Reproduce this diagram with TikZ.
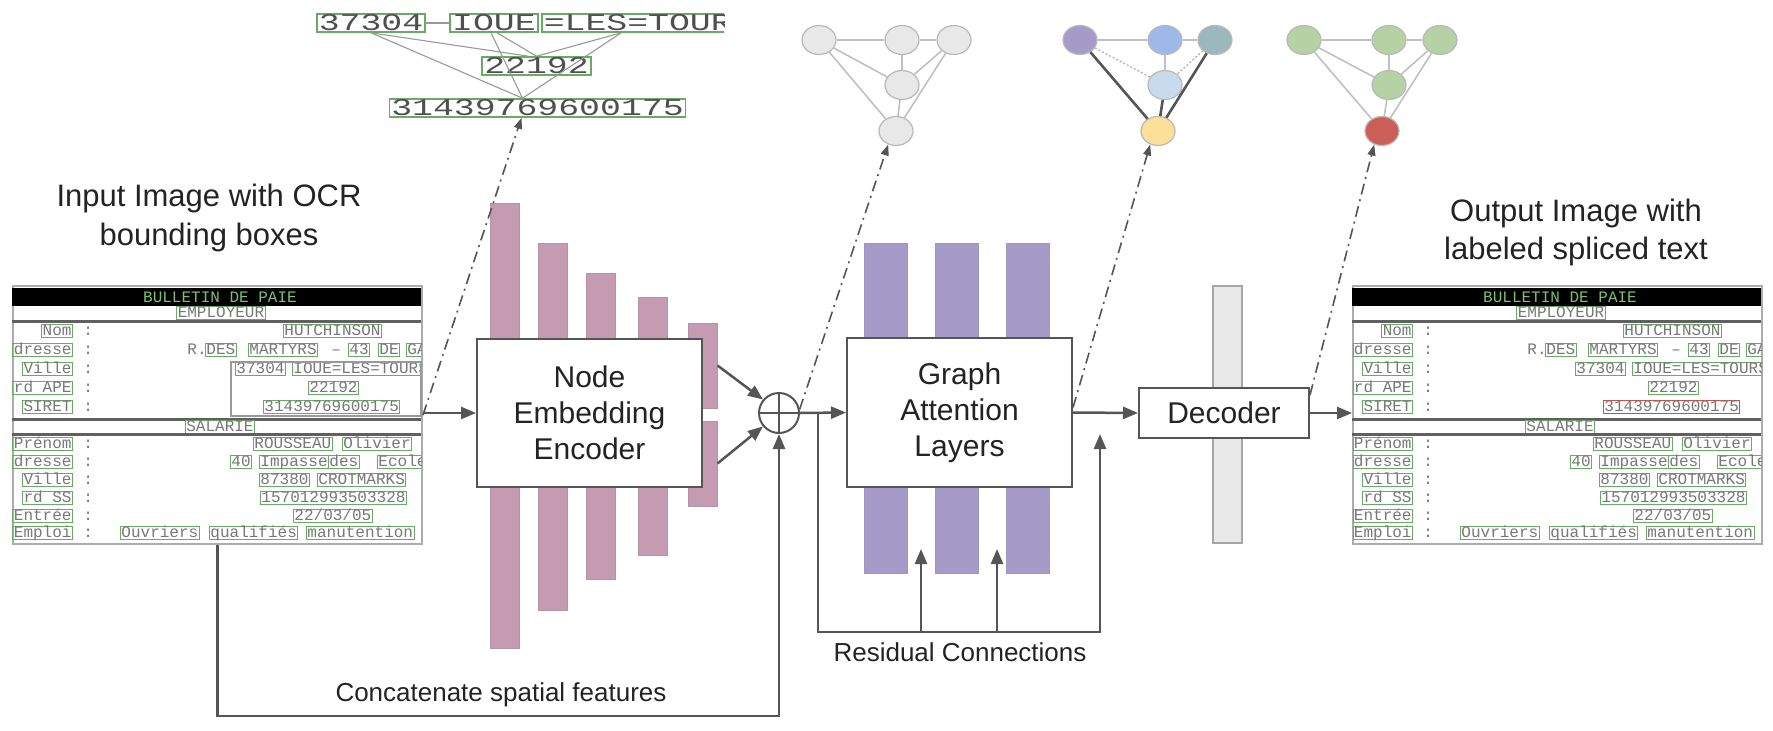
\documentclass[tikz,border=0pt]{standalone}
\usepackage{fontspec}
\setmainfont{Liberation Sans}
\newfontfamily\monof{Liberation Mono}
\usetikzlibrary{arrows.meta,shapes.geometric,calc}

\definecolor{ink}{RGB}{35,35,35}
\definecolor{linec}{RGB}{85,85,85}
\definecolor{pinkbar}{RGB}{197,155,178}
\definecolor{purpbar}{RGB}{165,155,201}
\definecolor{greybar}{RGB}{233,233,233}
\definecolor{ocrg}{RGB}{105,170,100}
\definecolor{ocrt}{RGB}{120,120,120}
\definecolor{hdrg}{RGB}{125,190,115}
\definecolor{gnode}{RGB}{232,232,232}
\definecolor{gedge}{RGB}{192,192,192}
\definecolor{npurple}{RGB}{165,155,201}
\definecolor{nblue}{RGB}{158,185,232}
\definecolor{nteal}{RGB}{155,184,188}
\definecolor{nlblue}{RGB}{201,218,236}
\definecolor{nyellow}{RGB}{250,224,152}
\definecolor{ngreen}{RGB}{182,210,164}
\definecolor{nred}{RGB}{204,94,90}
\definecolor{redbox}{RGB}{205,80,70}

\tikzset{
  pbar/.style={draw=pinkbar!75!gray, fill=pinkbar, line width=1pt, minimum width=29, inner sep=0},
  vbar/.style={draw=purpbar!85!gray, fill=purpbar, line width=1pt, minimum width=43, minimum height=330, inner sep=0},
  gbar/.style={draw=gray!70, fill=greybar, line width=1.2pt, minimum width=29, inner sep=0},
  box/.style={draw=linec, fill=white, line width=2pt, align=center, text=ink,
    font=\fontsize{30}{36}\selectfont, inner sep=0},
  lbl/.style={align=center, text=ink, inner sep=0},
  arr/.style={draw=linec, line width=2.5pt, -{Triangle[length=15pt,width=12pt]}},
  dd/.style={draw=linec, line width=1.6pt, dash pattern=on 11pt off 5pt on 2pt off 5pt,
    -{Triangle[length=11pt,width=8pt]}},
  gn/.style={ellipse, draw=gray!55, line width=1.2pt, minimum width=34, minimum height=29, inner sep=0},
  ge/.style={draw=gedge, line width=1.6pt},
  gdot/.style={draw=gray!60, line width=1.3pt, dash pattern=on 2pt off 2pt},
  gthick/.style={draw=linec, line width=2.6pt},
  w/.style={draw=ocrg, line width=0.9pt, text=ocrt, font=\monof\fontsize{16}{16}\selectfont,
    inner xsep=1pt, inner ysep=0.6pt, text height=10pt, text depth=1.5pt, anchor=west},
  wl/.style={w, anchor=east},
  wp/.style={w, draw=none},
  hdr/.style={text=hdrg, font=\monof\fontsize{16}{16}\selectfont, inner sep=0},
  rule/.style={draw=gray!75!black, line width=2.5pt},
  docframe/.style={draw=gray!65, fill=white, line width=2pt, inner sep=0},
  tg/.style={draw=ocrg, line width=1.6pt, text=ink!80, font=\monof\fontsize{24}{24}\selectfont,
    inner xsep=2pt, inner ysep=1.5pt, text height=15pt, text depth=0pt},
  tge/.style={draw=gray!80, line width=1.1pt},
}

\newcommand\paydoc[3]{%
\begin{scope}[shift={(#1,0)}]
  \node[docframe, minimum width=409, minimum height=258, anchor=north west] (#2) at (0,285) {};
  \begin{scope}
    \clip (0,285) rectangle (409,543);
    \fill[black] (0,288) rectangle (409,306);
    \node[hdr] (#2-h) at (208,297) {BULLETIN DE PAIE};
    \node[w, anchor=center] (#2-emp) at (209,313) {EMPLOYEUR};
    \draw[rule] (0,321.5) -- (409,321.5);
    % employer rows
    \node[wl] (#2-l1) at (61,331) {Nom};
    \node[wl] (#2-l2) at (61,350) {dresse};
    \node[wl] (#2-l3) at (61,369) {Ville};
    \node[wl] (#2-l4) at (61,388) {rd APE};
    \node[wl] (#2-l5) at (61,407) {SIRET};
    \foreach \yy/\k in {331/1,350/2,369/3,388/4,407/5}{\node[wp] (#2-c\k) at (70,\yy) {:};}
    \node[w] (#2-v1) at (271,331) {HUTCHINSON};
    \node[wp] (#2-v2a) at (174,350) {R.};
    \node[w] (#2-v2b) at (193,350) {DES};
    \node[w] (#2-v2c) at (236,350) {MARTYRS};
    \node[wp] (#2-v2d) at (318,350) {–};
    \node[w] (#2-v2e) at (336,350) {43};
    \node[w] (#2-v2f) at (366,350) {DE};
    \node[w] (#2-v2g) at (394,350) {GA};
    \node[w] (#2-v3a) at (223,369) {37304};
    \node[w] (#2-v3b) at (280,369) {IOUE=LES=TOURS};
    \node[w] (#2-v4) at (296,388) {22192};
    \node[w, draw=#3] (#2-v5) at (251,407) {31439769600175};
    % salarie
    \draw[rule] (0,419.5) -- (409,419.5);
    \node[w, anchor=center] (#2-sal) at (208,427) {SALARIE};
    \draw[rule] (0,434.5) -- (409,434.5);
    \node[wl] (#2-m1) at (61,444) {Prénom};
    \node[wl] (#2-m2) at (61,462) {dresse};
    \node[wl] (#2-m3) at (61,480) {Ville};
    \node[wl] (#2-m4) at (61,498) {rd SS};
    \node[wl] (#2-m5) at (61,516) {Entrée};
    \node[wl] (#2-m6) at (61,533) {Emploi};
    \foreach \yy/\k in {444/1,462/2,480/3,498/4,516/5,533/6}{\node[wp] (#2-d\k) at (70,\yy) {:};}
    \node[w] (#2-s1a) at (241,444) {ROUSSEAU};
    \node[w] (#2-s1b) at (330,444) {Olivier};
    \node[w] (#2-s2a) at (218,462) {40};
    \node[w] (#2-s2b) at (247,462) {Impasse};
    \node[w] (#2-s2c) at (316,462) {des};
    \node[w] (#2-s2d) at (365,462) {Ecoles};
    \node[w] (#2-s3a) at (247,480) {87380};
    \node[w] (#2-s3b) at (305,480) {CROTMARKS};
    \node[w] (#2-s4) at (248,498) {157012993503328};
    \node[w] (#2-s5) at (281,516) {22/03/05};
    \node[w] (#2-s6a) at (108,533) {Ouvriers};
    \node[w] (#2-s6b) at (197,533) {qualifiés};
    \node[w] (#2-s6c) at (294,533) {manutention};
  \end{scope}
\end{scope}}

\begin{document}
\begin{tikzpicture}[x=1pt,y=-1pt]
\useasboundingbox (0,0) rectangle (1773,731);

% ---------- titles ----------
\node[lbl, font=\fontsize{31}{39}\selectfont] (inlbl) at (209,218) {Input Image with OCR\\bounding boxes};
\node[lbl, font=\fontsize{31}{38}\selectfont] (outlbl) at (1576,232) {Output Image with\\labeled spliced text};

% ---------- documents ----------
\paydoc{12}{doc1}{ocrg}
\paydoc{1352}{doc2}{redbox}
\node[draw=gray!80, line width=1.5pt, minimum width=190, minimum height=54, inner sep=0, anchor=north west] (inhl) at (230,361) {};

% ---------- encoder ----------
\node[pbar, minimum height=445] (p1) at (504.5,425.5) {};
\node[pbar, minimum height=367] (p2) at (552.5,426.5) {};
\node[pbar, minimum height=306] (p3) at (600.5,426) {};
\node[pbar, minimum height=258] (p4) at (652.5,426) {};
\node[pbar, minimum height=85] (p5) at (702.5,365.5) {};
\node[pbar, minimum height=85] (p6) at (702.5,463.5) {};
\node[box, minimum width=225, minimum height=148] (neb) at (589.5,413) {Node\\Embedding\\Encoder};

% ---------- oplus ----------
\node[circle, draw=linec, line width=2pt, minimum size=40, inner sep=0, fill=white] (op) at (779,413) {};
\draw[linec, line width=2pt] (op.north) -- (op.south) (op.west) -- (op.east);

% ---------- GAT ----------
\node[vbar] (v1) at (885.5,408) {};
\node[vbar] (v2) at (956.5,408) {};
\node[vbar] (v3) at (1028,408) {};
\node[box, minimum width=225, minimum height=149] (gal) at (959.5,412.5) {Graph\\Attention\\Layers};

% ---------- decoder ----------
\node[gbar, minimum height=257] (gb) at (1227.5,414.5) {};
\node[box, minimum width=170, minimum height=50] (dec) at (1224,413) {Decoder};

% ---------- main flow ----------
\draw[arr] (doc1.east |- neb.west) -- (neb.west);
\draw[arr] (p5.east) -- (op.140);
\draw[arr] (p6.east) -- (op.220);
\draw[arr] (op.east) -- (gal.west);
\draw[arr] (gal.east) -- (dec.west);
\draw[arr] (dec.east) -- (doc2.west |- dec.east);

% concatenate
\draw[arr] (doc1.south) -- ++(0,171) -| (op.south);
\node[lbl, font=\fontsize{26}{30}\selectfont] (catlbl) at (501,695) {Concatenate spatial features};

% residual
\coordinate (rA) at (818,413);
\coordinate (rB) at (818,632);
\coordinate (rC) at (1100,632);
\coordinate (rD) at (1100,434);
\coordinate (rE) at (921,632);
\coordinate (rF) at (921,549);
\coordinate (rG) at (997,632);
\coordinate (rH) at (997,549);
\draw[arr] (rA) -- (rB) -- (rC) -- (rD);
\draw[arr] (rE) -- (rF);
\draw[arr] (rG) -- (rH);
\node[lbl, font=\fontsize{26}{30}\selectfont] (reslbl) at (960,652) {Residual Connections};

% ---------- OCR text graph ----------
\node[tg] (tA) at (371,23) {\scalebox{1.45}[1]{37304}};
\node[tg] (tB) at (494,23) {\scalebox{1.45}[1]{IOUE}};
\begin{scope}
  \clip (300,0) rectangle (724,140);
  \node[tg, anchor=west] (tE) at (541,23) {\scalebox{1.45}[1]{=LES=TOURS}};
\end{scope}
\node[tg] (tC) at (536.5,66) {\scalebox{1.45}[1]{22192}};
\node[tg] (tD) at (537.5,108) {\scalebox{1.45}[1]{31439769600175}};
\draw[tge] (tA) -- (tB);
\draw[tge] (tA.south) -- ([xshift=-8pt]tC.north);
\draw[tge] (tA.south) -- ([xshift=-15pt]tD.north);
\draw[tge] ([xshift=3pt]tB.south) -- (tC.north);
\draw[tge] ([xshift=-3pt]tB.south) -- ([xshift=-15pt]tD.north);
\draw[tge] ([xshift=-27pt]tE.south) -- (tC.north);
\draw[tge] ([xshift=-27pt]tE.south) -- ([xshift=-15pt]tD.north);

% ---------- graph 1 (grey) ----------
\node[gn, fill=gnode] (g1a) at (819,40) {};
\node[gn, fill=gnode] (g1b) at (902,40) {};
\node[gn, fill=gnode] (g1c) at (954,40) {};
\node[gn, fill=gnode] (g1d) at (902,85) {};
\node[gn, fill=gnode] (g1e) at (896,131) {};
\draw[ge] (g1a) -- (g1b); \draw[ge] (g1b) -- (g1c); \draw[ge] (g1b) -- (g1d);
\draw[ge] (g1a) -- (g1d); \draw[ge] (g1a) -- (g1e); \draw[ge] (g1d) -- (g1e);
\draw[ge] (g1c) -- (g1d); \draw[ge] (g1c) -- (g1e);

% ---------- graph 2 (attention) ----------
\node[gn, fill=npurple] (g2a) at (1080,40) {};
\node[gn, fill=nblue] (g2b) at (1165,40) {};
\node[gn, fill=nteal] (g2c) at (1215,40) {};
\node[gn, fill=nlblue] (g2d) at (1165,85) {};
\node[gn, fill=nyellow] (g2e) at (1158,131) {};
\draw[ge] (g2a) -- (g2b); \draw[ge] (g2b) -- (g2c); \draw[ge] (g2b) -- (g2d);
\draw[gdot] (g2a) -- (g2d); \draw[gdot] (g2c) -- (g2d);
\draw[gthick] (g2a) -- (g2e); \draw[gthick] (g2d) -- (g2e); \draw[gthick] (g2c) -- (g2e);

% ---------- graph 3 (output) ----------
\node[gn, fill=ngreen] (g3a) at (1304,40) {};
\node[gn, fill=ngreen] (g3b) at (1389,40) {};
\node[gn, fill=ngreen] (g3c) at (1440,40) {};
\node[gn, fill=ngreen] (g3d) at (1389,85) {};
\node[gn, fill=nred] (g3e) at (1382,131) {};
\draw[ge] (g3a) -- (g3b); \draw[ge] (g3b) -- (g3c); \draw[ge] (g3b) -- (g3d);
\draw[ge] (g3a) -- (g3d); \draw[ge] (g3a) -- (g3e); \draw[ge] (g3d) -- (g3e);
\draw[ge] (g3c) -- (g3d); \draw[ge] (g3c) -- (g3e);

% ---------- dash-dot pointers ----------
\draw[dd] (doc1.east) -- ([xshift=-16pt]tD.south);
\draw[dd] (op.10) -- (g1e.240);
\draw[dd] ([yshift=5pt]gal.east) -- (g2e.240);
\draw[dd] ([yshift=18pt]dec.east) -- (g3e.240);
\end{tikzpicture}
\end{document}
